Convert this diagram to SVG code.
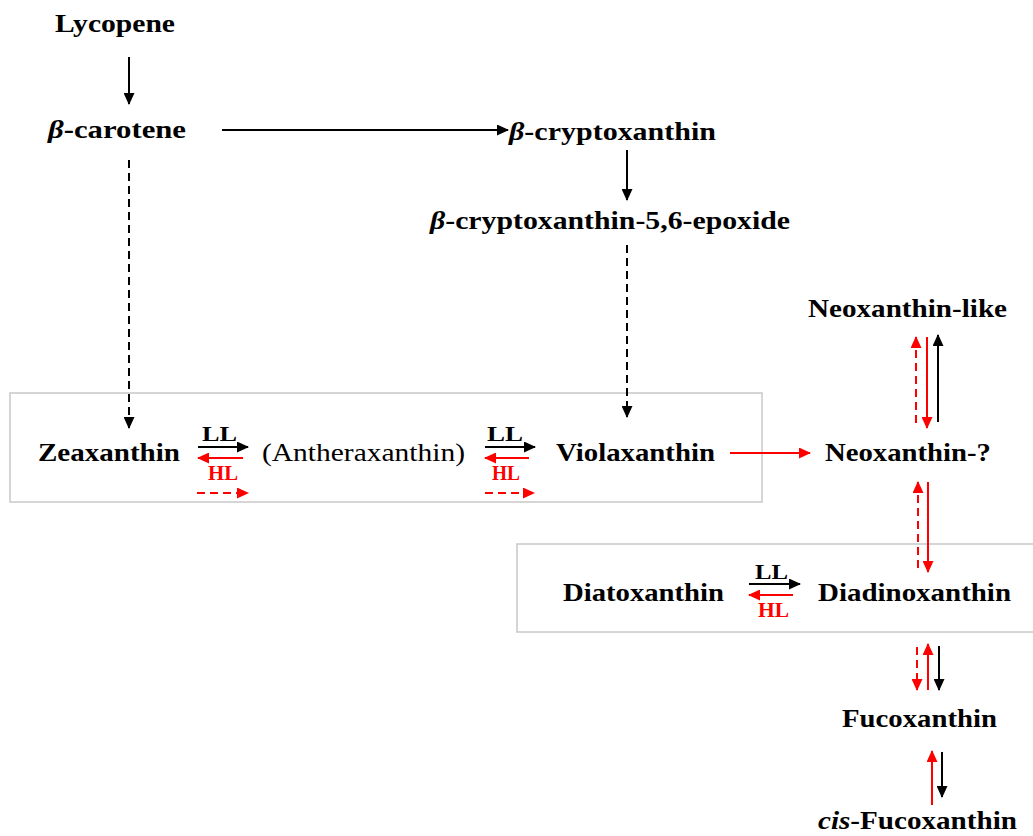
<svg xmlns="http://www.w3.org/2000/svg" width="1033" height="836" viewBox="0 0 1033 836">
<style>
text{font-family:"Liberation Serif","Times New Roman",serif;font-weight:bold;font-size:26px;fill:#000}
.sm{font-size:21px}
.red{fill:#ff0000}
.nb{font-weight:normal}
.box{fill:none;stroke:#c8c8c8;stroke-width:1.5}
.k{stroke:#000;stroke-width:2;fill:none;marker-end:url(#ak)}
.r{stroke:#ff0000;stroke-width:2;fill:none;marker-end:url(#ar)}
.d{stroke-dasharray:8 5}
</style>
<defs>
<marker id="ak" markerUnits="userSpaceOnUse" markerWidth="12" markerHeight="11" refX="11" refY="5.5" orient="auto"><path d="M0,0 L12,5.5 L0,11 z" fill="#000"/></marker>
<marker id="ar" markerUnits="userSpaceOnUse" markerWidth="12" markerHeight="11" refX="11" refY="5.5" orient="auto"><path d="M0,0 L12,5.5 L0,11 z" fill="#ff0000"/></marker>
</defs>
<rect class="box" x="10" y="393" width="752" height="109"/>
<rect class="box" x="517" y="544" width="520" height="88"/>
<g id="lycopene"><text x="55" y="32" textLength="120" lengthAdjust="spacingAndGlyphs">Lycopene</text></g>
<g id="bcarotene"><text x="48" y="138" textLength="138" lengthAdjust="spacingAndGlyphs"><tspan font-style="italic">β</tspan>-carotene</text></g>
<g id="bcrypto"><text x="509" y="140" textLength="207" lengthAdjust="spacingAndGlyphs"><tspan font-style="italic">β</tspan>-cryptoxanthin</text></g>
<g id="bcryptoepox"><text x="430" y="229" textLength="360" lengthAdjust="spacingAndGlyphs"><tspan font-style="italic">β</tspan>-cryptoxanthin-5,6-epoxide</text></g>
<g id="neoxlike"><text x="808" y="317" textLength="199" lengthAdjust="spacingAndGlyphs">Neoxanthin-like</text></g>
<g id="zeaxanthin"><text x="38" y="461" textLength="142" lengthAdjust="spacingAndGlyphs">Zeaxanthin</text></g>
<g id="antheraxanthin"><text class="nb" x="262" y="461" textLength="203" lengthAdjust="spacingAndGlyphs">(Antheraxanthin)</text></g>
<g id="violaxanthin"><text x="556" y="461" textLength="159" lengthAdjust="spacingAndGlyphs">Violaxanthin</text></g>
<g id="neoxq"><text x="825" y="461" textLength="166" lengthAdjust="spacingAndGlyphs">Neoxanthin-?</text></g>
<g id="diatoxanthin"><text x="563" y="601" textLength="161" lengthAdjust="spacingAndGlyphs">Diatoxanthin</text></g>
<g id="diadinoxanthin"><text x="818" y="601" textLength="193" lengthAdjust="spacingAndGlyphs">Diadinoxanthin</text></g>
<g id="fucoxanthin"><text x="842" y="727" textLength="155" lengthAdjust="spacingAndGlyphs">Fucoxanthin</text></g>
<g id="cisfuco"><text x="818" y="829" textLength="199" lengthAdjust="spacingAndGlyphs"><tspan font-style="italic">cis</tspan>-Fucoxanthin</text></g>
<g id="labels">
<text class="sm" x="202" y="441" textLength="35" lengthAdjust="spacingAndGlyphs">LL</text>
<text class="sm red" x="208" y="480" textLength="30" lengthAdjust="spacingAndGlyphs">HL</text>
<text class="sm" x="487" y="441" textLength="36" lengthAdjust="spacingAndGlyphs">LL</text>
<text class="sm red" x="492" y="480" textLength="28" lengthAdjust="spacingAndGlyphs">HL</text>
<text class="sm" x="755" y="579" textLength="33" lengthAdjust="spacingAndGlyphs">LL</text>
<text class="sm red" x="758" y="617" textLength="31" lengthAdjust="spacingAndGlyphs">HL</text>
</g>
<g id="connectors">
<line class="k" x1="129" y1="57" x2="129" y2="104"/>
<line class="k" x1="222" y1="130" x2="508" y2="130"/>
<line class="k" x1="627" y1="150" x2="627" y2="200"/>
<line class="k d" x1="129" y1="160" x2="129" y2="428"/>
<line class="k d" x1="627" y1="245" x2="627" y2="417"/>
<line class="k" x1="198" y1="447" x2="248" y2="447"/>
<line class="r" x1="243" y1="458" x2="198" y2="458"/>
<line class="r d" x1="197" y1="493" x2="248" y2="493"/>
<line class="k" x1="485" y1="447" x2="535" y2="447"/>
<line class="r" x1="529" y1="458" x2="485" y2="458"/>
<line class="r d" x1="485" y1="493" x2="534" y2="493"/>
<line class="r" x1="730" y1="453" x2="810" y2="453"/>
<line class="k" x1="749" y1="584" x2="800" y2="584"/>
<line class="r" x1="793" y1="595" x2="749" y2="595"/>
<line class="r d" x1="916" y1="423" x2="916" y2="337"/>
<line class="r" x1="927" y1="337" x2="927" y2="428"/>
<line class="k" x1="938" y1="422" x2="938" y2="335"/>
<line class="r d" x1="918" y1="568" x2="918" y2="482"/>
<line class="r" x1="928" y1="482" x2="928" y2="572"/>
<line class="r d" x1="917" y1="647" x2="917" y2="690"/>
<line class="r" x1="928" y1="690" x2="928" y2="644"/>
<line class="k" x1="939" y1="646" x2="939" y2="690"/>
<line class="r" x1="932" y1="805" x2="932" y2="751"/>
<line class="k" x1="942" y1="752" x2="942" y2="797"/>
</g>
</svg>
